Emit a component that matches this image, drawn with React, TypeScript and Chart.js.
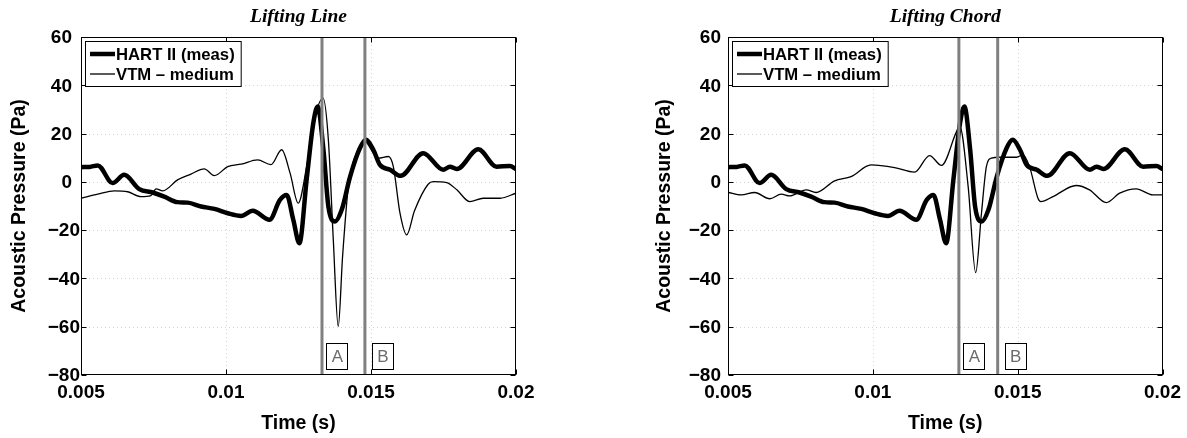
import React, { useEffect, useRef } from "react";
import { Chart, registerables } from "chart.js";
Chart.register(...registerables);

// ---------- data ----------
const timeMeas = [0.005, 0.0053, 0.00558, 0.00609, 0.00649, 0.00701, 0.00747, 0.00787, 0.00833, 0.00868, 0.00914, 0.0096, 0.01006, 0.01052, 0.01092, 0.0115, 0.01186, 0.01209, 0.01232, 0.01253, 0.01278, 0.01301, 0.01316, 0.01336, 0.01353, 0.01376, 0.01399, 0.01428, 0.01462, 0.01483, 0.01508, 0.01531, 0.01566, 0.01602, 0.0168, 0.01749, 0.01772, 0.01796, 0.0187, 0.01933, 0.01979, 0.02];
const pressMeas = [6.1, 6.2, 6.8, -0.5, 2.9, -3.0, -4.4, -6.1, -8.4, -8.6, -10.2, -11.2, -13.0, -14.1, -12.0, -15.7, -7.5, -5.4, -15.7, -25.4, 0.8, 24.3, 31.2, 13.3, -10.2, -16.4, -11.6, 2.2, 14.0, 17.4, 13.3, 7.0, 5.0, 2.5, 11.9, 5.0, 6.3, 5.3, 13.5, 6.3, 6.6, 5.3];

const timeLine = [0.005, 0.00558, 0.00615, 0.00661, 0.00707, 0.00741, 0.00759, 0.00782, 0.00833, 0.00879, 0.00925, 0.0096, 0.01006, 0.01052, 0.01109, 0.01155, 0.01192, 0.01221, 0.01249, 0.01278, 0.01307, 0.01335, 0.01353, 0.0137, 0.01387, 0.01402, 0.01422, 0.0145, 0.01479, 0.01508, 0.01525, 0.0156, 0.01577, 0.016, 0.01623, 0.0165, 0.01697, 0.01715, 0.01761, 0.01796, 0.01841, 0.01887, 0.01945, 0.02];
const pressLine = [-6.8, -5.1, -3.7, -4.1, -6.1, -5.7, -2.9, -3.7, 0.8, 3.2, 5.4, 2.6, 6.3, 7.3, 9.1, 7.1, 13.3, 3.6, -8.8, 6.3, 27.0, 34.7, 17.4, -24.0, -59.9, -30.9, -1.9, 11.9, 16.7, 11.9, 9.8, 10.5, 6.3, -13.0, -22.0, -12.0, -1.0, 0.1, -0.3, -3.3, -8.2, -6.8, -6.8, -4.7];

const timeChord = [0.005, 0.00546, 0.00592, 0.00644, 0.00684, 0.00713, 0.0077, 0.00804, 0.00868, 0.00925, 0.00994, 0.01075, 0.01144, 0.01196, 0.01237, 0.01289, 0.01300, 0.01329, 0.01355, 0.01375, 0.01392, 0.01409, 0.01438, 0.01496, 0.01518, 0.01541, 0.0157, 0.0158, 0.01622, 0.01702, 0.01748, 0.01806, 0.01852, 0.01909, 0.01967, 0.02];
const pressChord = [-4.3, -5.4, -4.4, -7.0, -5.1, -5.8, -3.3, -4.4, 0.4, 2.2, 7.0, 5.9, 4.0, 10.9, 6.8, 20.8, 23.0, -1.9, -37.6, -13.0, 6.3, 9.8, 10.2, 10.2, 11.2, 6.3, -6.8, -8.2, -6.1, -1.5, -3.3, -8.6, -4.7, -2.9, -5.4, -5.4];

const seriesNames = ["HART II (meas)", "VTM \u2013 medium"];
const panelTitles = ["Lifting Line", "Lifting Chord"];
const xTicks = [0.005, 0.01, 0.015, 0.02];
const xTickLabels = ["0.005", "0.01", "0.015", "0.02"];
const yTicks = [-80, -60, -40, -20, 0, 20, 40, 60];
const yTickLabels = ["\u221280", "\u221260", "\u221240", "\u221220", "0", "20", "40", "60"];
const markerLabels = ["A", "B"];
const markerTimesLine = [0.01331, 0.01479];
const markerTimesChord = [0.01297, 0.01431];
const xTitle = "Time (s)";
const yTitle = "Acoustic Pressure (Pa)";

// ---------- styles ----------
const SANS = "'Liberation Sans', Arial, Helvetica, sans-serif";
const SERIF = "'Liberation Serif', 'Times New Roman', serif";

function toPts(xs: number[], ys: number[]) {
  return xs.map((x, i) => ({ x, y: ys[i] }));
}

const decorPlugin = {
  id: "decor",
  beforeDatasetsDraw(chart: any) {
    const { ctx, chartArea: a, scales } = chart;
    const xs = scales.x, ys = scales.y;
    ctx.save();
    ctx.strokeStyle = "#d4d4d4";
    ctx.lineWidth = 1;
    ctx.setLineDash([1, 3]);
    xTicks.forEach((v) => {
      const px = Math.round(xs.getPixelForValue(v)) + 0.5;
      if (px <= a.left + 1 || px >= a.right - 1) return;
      ctx.beginPath(); ctx.moveTo(px, a.top); ctx.lineTo(px, a.bottom); ctx.stroke();
    });
    yTicks.forEach((v) => {
      const py = Math.round(ys.getPixelForValue(v)) + 0.5;
      if (py <= a.top + 1 || py >= a.bottom - 1) return;
      ctx.beginPath(); ctx.moveTo(a.left, py); ctx.lineTo(a.right, py); ctx.stroke();
    });
    ctx.restore();
  },
  afterDatasetsDraw(chart: any) {
    const { ctx, chartArea: a, scales } = chart;
    const xs = scales.x, ys = scales.y;
    const opts = chart.options.plugins.decor;
    ctx.save();
    // marker lines
    ctx.strokeStyle = "#808080";
    ctx.lineWidth = 3;
    opts.markers.forEach((t: number) => {
      const px = xs.getPixelForValue(t);
      ctx.beginPath(); ctx.moveTo(px, a.top); ctx.lineTo(px, a.bottom); ctx.stroke();
    });
    // box
    ctx.strokeStyle = "#000";
    ctx.lineWidth = 1;
    const L = Math.round(a.left) + 0.5, R = Math.round(a.right) - 0.5;
    const T = Math.round(a.top) + 0.5, B = Math.round(a.bottom) - 0.5;
    ctx.strokeRect(L, T, R - L, B - T);
    // inward ticks
    const tl = 5;
    ctx.beginPath();
    xTicks.forEach((v) => {
      const px = Math.round(xs.getPixelForValue(v)) + 0.5;
      ctx.moveTo(px, B); ctx.lineTo(px, B - tl);
      ctx.moveTo(px, T); ctx.lineTo(px, T + tl);
    });
    yTicks.forEach((v) => {
      const py = Math.round(ys.getPixelForValue(v)) + 0.5;
      ctx.moveTo(L, py); ctx.lineTo(L + tl, py);
      ctx.moveTo(R, py); ctx.lineTo(R - tl, py);
    });
    ctx.stroke();
    // marker label boxes
    ctx.font = `17px ${SANS}`;
    ctx.textAlign = "center";
    ctx.textBaseline = "middle";
    opts.markers.forEach((t: number, i: number) => {
      const px = xs.getPixelForValue(t) + opts.boxOffsets[i];
      const bw = 21, bh = 26;
      const by = a.bottom - 6 - bh;
      ctx.fillStyle = "#fff";
      ctx.fillRect(px, by, bw, bh);
      ctx.strokeStyle = "#000";
      ctx.strokeRect(Math.round(px) + 0.5, Math.round(by) + 0.5, bw, bh);
      ctx.fillStyle = "#6b6b6b";
      ctx.fillText(markerLabels[i], px + bw / 2 + 0.5, by + bh / 2 + 1);
    });
    ctx.restore();
  },
  afterDraw(chart: any) {
    const { ctx, chartArea: a, scales } = chart;
    const opts = chart.options.plugins.decor;
    ctx.save();
    // y tick labels
    ctx.font = `bold 19px ${SANS}`;
    ctx.fillStyle = "#000";
    ctx.textAlign = "right";
    ctx.textBaseline = "middle";
    yTicks.forEach((v, i) => {
      const py = scales.y.getPixelForValue(v);
      const pad = v < 0 ? opts.negPad : opts.posPad;
      ctx.fillText(yTickLabels[i], a.left - pad, py + 1);
    });
    // title
    ctx.font = `bold italic 19.5px ${SERIF}`;
    ctx.textAlign = "center";
    ctx.fillText(opts.title, (a.left + a.right) / 2, 17);
    // legend
    ctx.font = `bold 16.7px ${SANS}`;
    const ds = chart.data.datasets;
    let tw = 0;
    ds.forEach((d: any) => { tw = Math.max(tw, ctx.measureText(d.label).width); });
    const lx = Math.round(a.left) + 4, ly = Math.round(a.top) + 4;
    const w = 35 + tw + 2, h = 45;
    ctx.fillStyle = "#fff";
    ctx.fillRect(lx, ly, w, h);
    ctx.strokeStyle = "#000";
    ctx.lineWidth = 1;
    ctx.strokeRect(lx + 0.5, ly + 0.5, w, h);
    ds.forEach((d: any, i: number) => {
      const cy = ly + 13 + i * 20;
      ctx.strokeStyle = d.borderColor;
      ctx.lineWidth = d.borderWidth;
      ctx.beginPath(); ctx.moveTo(lx + 5, cy); ctx.lineTo(lx + 30, cy); ctx.stroke();
      ctx.fillStyle = "#000";
      ctx.textAlign = "left";
      ctx.fillText(d.label, lx + 31, cy + 1);
    });
    ctx.restore();
  },
};

function makeConfig(series: number[][], title: string, markers: number[], padL: number, padR: number, posPad: number, negPad: number, yTitlePad: number): any {
  return {
    type: "scatter",
    data: {
      datasets: [
        {
          label: seriesNames[0],
          data: toPts(timeMeas, pressMeas),
          showLine: true,
          borderColor: "#000",
          backgroundColor: "#000",
          borderWidth: 4.5,
          pointRadius: 0,
          cubicInterpolationMode: "monotone",
          borderJoinStyle: "round",
          borderCapStyle: "round",
        },
        {
          label: seriesNames[1],
          data: toPts(series[0], series[1]),
          showLine: true,
          borderColor: "#000",
          backgroundColor: "#000",
          borderWidth: 1.3,
          pointRadius: 0,
          cubicInterpolationMode: "monotone",
        },
      ],
    },
    options: {
      responsive: false,
      animation: false,
      layout: { padding: { left: padL, right: padR, top: 37, bottom: 0 } },
      plugins: {
        legend: { display: false },
        tooltip: { enabled: false },
        title: { display: false },
        decor: { title, markers, boxOffsets: [4.5, 7], posPad, negPad },
      },
      scales: {
        x: {
          type: "linear",
          min: 0.005,
          max: 0.02,
          grid: { display: false, drawTicks: false },
          border: { display: false },
          afterBuildTicks: (s: any) => { s.ticks = xTicks.map((v) => ({ value: v })); },
          afterFit: (s: any) => { s.height = 63; },
          ticks: {
            padding: 6,
            color: "#000",
            maxRotation: 0,
            autoSkip: false,
            font: { family: SANS, size: 19, weight: "bold" },
            callback: (v: number) => {
              const i = xTicks.findIndex((t) => Math.abs(t - v) < 1e-9);
              return i >= 0 ? xTickLabels[i] : "";
            },
          },
          title: {
            display: true,
            text: xTitle,
            color: "#000",
            font: { family: SANS, size: 19.5, weight: "bold" },
            padding: { top: 0, bottom: 3 },
          },
        },
        y: {
          type: "linear",
          min: -80,
          max: 60,
          grid: { display: false, drawTicks: false },
          border: { display: false },
          afterBuildTicks: (s: any) => { s.ticks = yTicks.map((v) => ({ value: v })); },
          afterFit: (s: any) => { s.width = 81; },
          ticks: { display: false },
          title: {
            display: true,
            text: yTitle,
            color: "#000",
            font: { family: SANS, size: 19.5, weight: "bold" },
            padding: { top: yTitlePad, bottom: 0 },
          },
        },
      },
    },
    plugins: [decorPlugin],
  };
}

function Panel(props: { left: number; width: number; cfg: () => any }) {
  const ref = useRef<HTMLCanvasElement | null>(null);
  useEffect(() => {
    if (!ref.current) return;
    const chart = new Chart(ref.current, props.cfg());
    return () => chart.destroy();
  }, []);
  return (
    <canvas
      ref={ref}
      width={props.width}
      height={438}
      style={{ position: "absolute", left: props.left, top: 0, width: props.width, height: 438 }}
    />
  );
}

export default function App() {
  return (
    <div style={{ position: "fixed", left: 0, top: 0, width: 1187, height: 438, background: "#fff" }}>
      <Panel left={0} width={593} cfg={() => makeConfig([timeLine, pressLine], panelTitles[0], markerTimesLine, 0, 77, 9, 1, 8)} />
      <Panel left={593} width={594} cfg={() => makeConfig([timeChord, pressChord], panelTitles[1], markerTimesChord, 54, 24, 7, 7, 6)} />
    </div>
  );
}
